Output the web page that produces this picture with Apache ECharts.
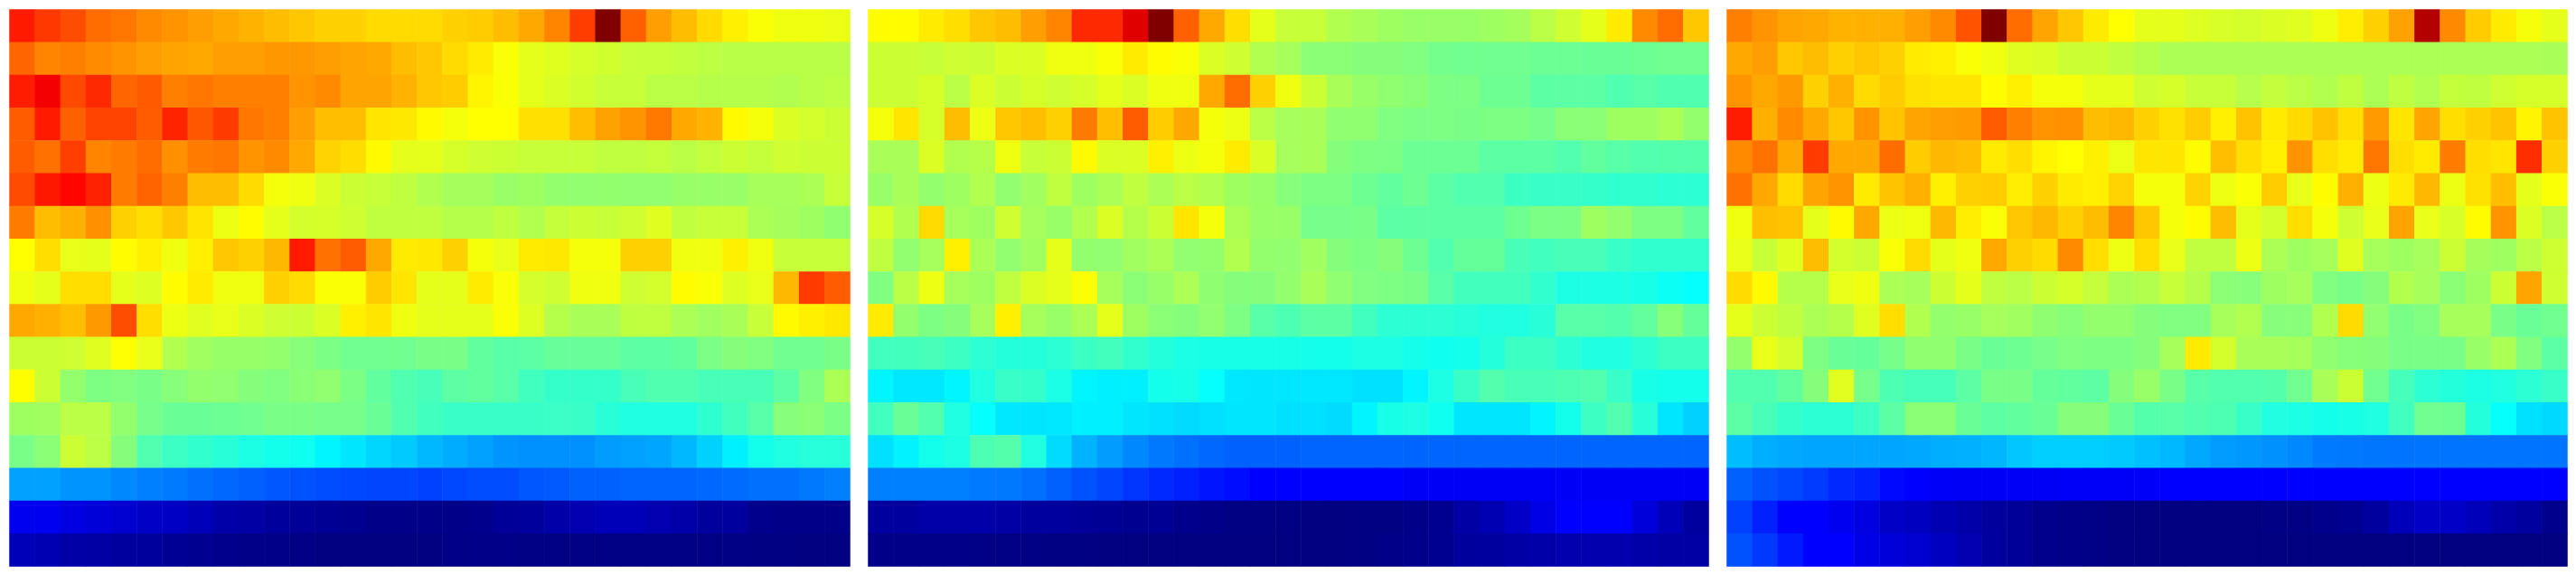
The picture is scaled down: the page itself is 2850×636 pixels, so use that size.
<!DOCTYPE html>
<html>
<head>
<meta charset="utf-8">
<style>html,body{margin:0;padding:0;background:#fff}#c{width:2850px;height:636px}</style>
<script src="https://cdn.jsdelivr.net/npm/echarts@6/dist/echarts.min.js"></script>
</head>
<body>
<div id="c"></div>
<script>
const columns = Array.from({length: 33}, (_, i) => String(i));
const rows = Array.from({length: 17}, (_, i) => String(i));
const jetColors = ['#000080','#0000ff','#0080ff','#00ffff','#80ff80','#ffff00','#ff8000','#ff0000','#800000'];

const panelA = [
[85,82,80,77,76,74,73,72,71,70,69,68,67,67,66,66,66,67,67.5,69,71,74.5,81.5,100,78,72,69,66,64,62,61,61,60.5],
[77.5,74.6,75,73.8,73,72,71.5,71,72,72,72.7,72.7,72,71.5,71,69,68,66,64.5,62,60,59.5,58.5,58,57,57,56.5,56,55.5,55.5,55.5,55.5,55.5],
[84.8,88.5,80.5,83.5,77.5,78.7,75,76,75,75,75,73,74,71.5,71.5,70,68,67.5,63.5,62,60,59,58,57,57,55.7,55.7,55.2,55.2,55.2,54.8,55.5,56],
[78.5,85,78,81,81,78.5,84,79,81.7,76,75,72,68.8,68.8,65,64.8,63,61.5,62.5,62.5,65.6,65.6,68.8,71.8,73,75.8,71,70,63,61.5,59,58.2,57.5],
[78.5,76.5,81.3,74.5,75.4,77,73.4,75.4,76,73,74,71,66.8,65.8,63,60,60,58.5,57.8,57.5,57,57,57,56.3,56.3,56.7,55.7,56.7,57.5,56.7,57.8,57.5,57.5],
[80.2,85.2,87,84.3,75.4,77.7,75,69,69,66,61.5,61,59,57.5,57,56.3,54.8,53.5,53.5,52.5,53,52,51.7,52,51.7,51.7,52.5,52.5,52.5,53.7,53.7,54.2,57],
[75.4,69,70.3,73.4,67,65.8,68,65.2,60.7,62.7,60,58.2,58.5,57.8,56.3,56.3,56.3,55.2,55.2,56.3,54.8,56.7,57.5,57,57.8,59.4,56.3,57,57,54.2,53.5,53,51.6],
[62.5,65.7,60.3,60,62.7,64,61,64,68,67,69.5,85,76.5,78.5,71,64.5,64.8,67,61.5,60.3,64.5,64.8,61.5,61.5,67,67,61,61,64,61,57,57,57],
[61,60,65.7,65.7,60,59.2,62.7,64.5,61,61,67,66,62,62,67.5,65,60,60,64.5,62,58.2,57.8,61,61,57.8,58.2,62.7,62,59.2,60.3,69.5,81.7,78.5],
[71,70.3,68.8,72.5,80,65.7,60.7,59.4,60.3,59,57.8,57.5,59,64,65,61,60,60,60,62,59.2,55.2,54,54,56.3,56.3,54.3,53.2,54,57,63,64,64.8],
[57.5,57.5,57.8,59.4,62.3,60.3,54.8,53.2,52.3,52.3,52,50.8,49.5,48.5,48.5,48.5,49.3,49.3,47,46,46.5,47.5,47.5,47.5,46.5,46.5,47,49.5,50.5,50,48.5,48.5,49.3],
[62.6,57.5,52,49.7,50,49.3,50.8,52,51.7,50.5,50,51,51.7,49.5,47,45.3,44.4,46.5,47,46,43.8,42.6,42.6,42.6,44.5,45.3,45.3,44.5,44.5,44.5,46.5,50,54.3],
[53,53.2,55.7,55.7,52,49,47.8,47.8,48,48.5,49.3,49.3,49,49,47.8,45.3,43.8,43,43,43,43,43.3,43,41.3,40.6,40.6,40.6,42,43.8,46,50.8,51,49.5],
[49.3,51,57.5,55.7,50.5,45.3,43.4,42.3,41.3,40.2,39.5,39,36.5,35,33.5,32.3,30.5,29.3,28.2,27,26.6,26.6,26.6,27.8,28.2,28.6,30.5,33,36,39.5,40.6,41.2,41.2],
[28.2,28.2,27,27,25.8,25,24.5,23.5,22.7,22,21,20.4,20,19.5,19.2,19.2,18.8,19.5,20,20,21,21.3,22,22,22.3,22.3,22.3,22.7,23,23.5,23.5,24.3,25],
[11,11,9.5,8.7,8,7,6.7,5.5,4,3.5,2.8,2.4,2,1.6,.8,.8,.8,.8,1.2,2.4,2.8,4,4.8,5.5,5.5,4.8,4,2.8,3.1,1.2,.8,.8,.8],
[5.5,5,4,3.5,3,2.8,2,1.6,1.2,.8,.8,.4,0,0,0,0,0,.6,.6,.6,.5,.5,.5,.5,.5,.5,.5,.5,.5,.3,.3,0,0]
];

const panelB = [
[62.7,62.7,64.5,65.7,68,69,72,74.5,83.5,83.5,90.5,100,78,71,65.7,60,57,57,54.8,54,53,52.5,52.5,52.5,53,53.5,55.7,57.8,60,64.5,74,77,68],
[57.5,57.5,57,57.8,57.5,59,59,61,61,62,64.5,62.7,62,59,57.8,54.8,53.7,51,51,50.5,50.5,50,48.8,48.5,48.5,48.5,48,48,47.8,47.8,48,48.5,48.5],
[57.5,57.5,58.5,55.7,59,57.5,58.5,57.8,58.5,60,59,61,61,71,77,67,61,57.5,54,52.5,51.6,51,49.7,49.7,48.2,48.2,46.5,46.5,46.5,45.3,46,45.3,45.3],
[61.5,65,58.5,69,60.7,68,68.8,67,75.4,68.8,78.5,67.5,71,61.5,60.7,55.7,53.7,54,51.6,51.6,50,49.7,49.7,49.3,49.7,49.7,49,51,51,53,53,54.2,52],
[54,54,59,54.8,55.2,61,57,57.5,63,59,59,64,60.7,61.5,64.5,59,53.7,54,50.5,49.7,49.5,48,48,48,46.5,46.5,46.5,45.4,47,46,45.4,45.7,45.7],
[52.5,54,52,53,54.8,51.7,53.2,56.3,53,54.2,56.3,54.2,55.7,54.8,53,52.5,50.8,49.7,49.7,48.2,47,48.2,46.5,45.4,45.4,43.4,43,43,42.6,42.2,42.2,41.8,41.8],
[58.5,54.8,66,53.7,53,57.8,53.7,52.5,54.8,59,55.2,57.5,65,61.5,54.2,52.5,52.5,49,49,49.3,46.5,46.5,46.5,46.5,46.5,48.2,49.5,49.5,53,52,49.7,49.7,47],
[56.3,51.7,53.7,64,54.2,51.7,53.2,60,52,51.7,53.2,54.2,51.7,52,54.8,52,51.7,53.2,50.5,49.7,50.5,48.2,45.4,47.4,47.4,44.5,43.8,44.5,44.5,43,42.2,42.2,42.2],
[50,55.7,60.7,53.7,53,56.3,59,60,62,53.7,51,52.5,54.2,51.5,50.5,50.5,52,54,51.6,50,49.7,49.3,46,44,44,44,42.3,40.2,40.2,40.2,39.8,38.6,38],
[64.5,52,49.7,50.5,53.7,64,53.7,52.5,54.2,60,53,51,50.5,51.7,49.7,46,45,46.5,46.5,43.8,41.8,41.8,41.8,41.3,40.6,40.6,41.3,46,46,45.6,47.2,50.8,47.3],
[43.8,44,44.5,43.4,41.8,41,41,41.8,43.4,44,42.3,41,40,39.8,39.8,39.8,39.8,39.4,39.4,40.2,40.2,39.4,39,39.4,41,43.4,43.4,41.8,40.6,40.6,41.8,43.4,43.4],
[36.5,35.2,35.2,36.5,40.6,43,42.6,40,36.5,36,36,39.4,39.8,38,35.2,35,35,35.2,35.2,34.5,34.5,36.5,40.2,43,45.6,44.5,44.5,45,45.4,43,39.8,39.4,39.4],
[43.8,47.8,45.4,40.6,38,35.2,35,35.2,36,36,35,34.5,34,34.5,35,35,34.5,34.5,34,36.5,39.8,40.2,39,35,35,35,36.5,39.4,43.4,45.4,41.3,35,33],
[34.5,36.3,39.4,40.2,45,45.7,40.6,34,30,27.8,25.8,24.3,23.5,22.7,22,22,22,22.3,22.3,22.3,22.3,22.3,22.3,22.3,22.3,22.3,22.3,22.3,22.3,22.3,22.3,22.3,22.3],
[25,25,25,25,24.5,24.3,23.5,22,20.4,19.2,17.6,16.5,15.6,14.5,13.7,12.5,12.5,12.5,12.5,12.5,12.5,11.7,11.7,11.7,11.7,11.7,11.7,11.7,11.7,11.7,11.7,11.7,11.7],
[3,3,4,4,4,3.5,3,3,2.4,2,1.6,2,1.2,.8,.3,.3,.3,0,0,.3,.3,.8,1.6,3.5,5,7,10,12.5,12.5,12.5,9,5.5,3],
[.8,.8,.8,.8,.5,.5,.5,.2,.2,0,0,0,0,0,0,0,0,0,0,.2,.6,1,1.6,2.8,3,3.5,4,4.5,4.5,4.5,4,3.5,3.5]
];

const panelC = [
[75,73,71.5,71,70,70.3,70.3,72,74,79.4,100,77,71.5,68,64.5,62.5,60,60,59.2,58.7,58.2,59,59.4,61,64.2,67,71.8,95,74,67.5,64.5,61.5,60],
[71,72,68,69,67,68,67,64.5,64,62,61,59.4,59,57.5,57.5,56.3,55.2,54.2,54.2,54.2,54.2,54.2,54.2,54.2,54.2,54.2,54.2,54.2,54.2,54.2,54.2,54.2,54],
[73,71,72.5,67,70.3,66,67.5,65.5,65,65,62.7,64,61.5,61.5,60,60,57.8,58.5,57,57,55.3,56.6,55.7,54.8,56.3,54.3,56.3,54.8,56.7,56.3,57.8,58.5,58.5],
[84.8,70.3,74,71,68,73,68.4,71.5,72,72.3,78.5,75,73,73.4,69,69.5,67,65.5,67.5,64,68.4,64.5,66,68.4,65.7,72.3,65,71.5,65.7,67,68.4,63.5,68.4],
[74,76.5,71,81.7,71,71,77,67.5,69.5,68.8,64.5,65.7,63.5,62.5,64,60.5,65,65,62.8,68.8,65.7,64,73,65.7,64.5,76,65.7,64.5,75.4,65.7,65,83,67],
[76.5,71,66,71.5,73,64.5,68.4,70.3,64,67,67.5,64.2,67,64.5,64,66.8,61.5,61.5,66.8,60.8,62,67.5,60.3,62.7,70.3,60.7,64.5,69.5,60.7,65.5,68.8,60,62],
[61,68.8,68.4,60,63,71,60.5,61,69.5,64.2,62,68,69.5,67,69,74.5,68,61.5,62.7,69,60,58.2,65.7,61.5,57.8,60.3,71.5,60.3,58.7,62.7,73,59,55.7],
[60.3,57,59.4,69,58.2,57.5,62,66,60,61,71,67,66,74,65.7,60.7,65.7,60.3,56.3,56.3,60.7,54.2,53,53.8,59.4,53.8,53,53.8,57.5,53.6,53,55.7,57.7],
[66,63,55.2,55.2,60.3,61,54.2,53.7,57.5,60,56.3,55.7,57.5,58.5,56.7,54.2,55,57,55.2,51,50.8,53,53.7,50,49.3,50.5,55,53.7,51,53,57.5,71.5,57.8],
[60,57.5,56.3,54.2,55.2,59.4,65.7,54.8,52,52.5,53.7,53.2,51.5,50.8,52,52,50.5,50,50,53.7,54.8,50.8,50.8,54.8,66,51.7,49.3,50,53.7,53.7,49.3,47.8,48.5],
[52,60.3,58.2,49.7,47.8,47.3,49,51.6,51.6,49.3,47.8,48.2,49,50,49.7,49.7,50.5,53.7,64.5,58.2,54,54,53.7,51.6,50.8,50.5,49.3,49.3,49.3,52.5,54.2,50,46.5],
[45.4,45.4,47,50.5,59.4,49,45,44.2,44.2,46.5,49.3,49.3,47.3,47,46.5,50.5,52.5,49.3,46,45.4,45.4,45.7,48.5,54,57.5,48.5,44.2,41.8,41,40.2,40.6,41.8,43],
[46.5,44.5,42.6,41.8,41.8,43.4,46.5,51,51,47.8,46.5,47,47.8,50.5,50.5,47.8,45.7,46,45.4,45,43,40.6,40.2,39.4,39.8,40.6,43.8,48.5,48.2,41,38,34.5,33.8],
[31,29.5,29,28.6,28.6,28.6,28.6,29,29.5,29.8,30.3,32,32.7,32.7,32.7,32.3,31.3,30.5,29,27.8,27.3,26.6,25.8,24.5,24.3,24,23.8,23.8,23.8,23.8,23.8,23.8,23.8],
[22,20.4,19.5,18.3,16.4,15.6,13.3,12.5,12,11.7,11.7,11.7,11.7,12,12,12,12,12.5,12.5,12.5,12.5,12.5,12.5,12.5,12.5,12.5,12.5,12.5,12.5,12.5,12.5,12.5,12.5],
[18.8,15.6,12.5,12.5,11,9.5,7,6.3,5,4,2.8,2.4,1.2,.8,.4,0,0,0,0,0,0,.4,.4,1.2,1.6,3.1,5.8,7,7,5.8,4,3.1,1.2],
[20.4,18,15,12.5,12.5,10,8.8,8,6.3,4.8,3.1,2.4,1.2,.8,.4,0,0,0,0,0,0,0,0,0,0,0,0,0,0,0,0,0,0]
];

const panels = [panelA, panelB, panelC];
const panelLeft = [10.5, 960.5, 1910.5];
panels.forEach((p, k) => {
  if (p.length !== 17) throw new Error('panel ' + k + ' rows ' + p.length);
  p.forEach((r, i) => { if (r.length !== 33) throw new Error('panel ' + k + ' row ' + i + ' has ' + r.length); });
});

const chart = echarts.init(document.getElementById('c'), null, {renderer: 'canvas'});
chart.setOption({
  animation: false,
  backgroundColor: '#ffffff',
  tooltip: {show: false},
  grid: panelLeft.map(l => ({left: l, top: 10.5, width: 930, height: 616})),
  xAxis: panelLeft.map((_, k) => ({type: 'category', gridIndex: k, data: columns, show: false, splitArea: {show: false}})),
  yAxis: panelLeft.map((_, k) => ({type: 'category', gridIndex: k, data: rows, inverse: true, show: false, splitArea: {show: false}})),
  visualMap: {
    show: false, min: 0, max: 100, calculable: false,
    seriesIndex: [0, 1, 2], dimension: 2,
    inRange: {color: jetColors}
  },
  series: panels.map((p, k) => ({
    type: 'heatmap',
    xAxisIndex: k,
    yAxisIndex: k,
    progressive: 0,
    itemStyle: {borderWidth: 0},
    emphasis: {disabled: true},
    data: p.flatMap((r, y) => r.map((v, x) => [x, y, v]))
  }))
});
</script>
</body>
</html>
